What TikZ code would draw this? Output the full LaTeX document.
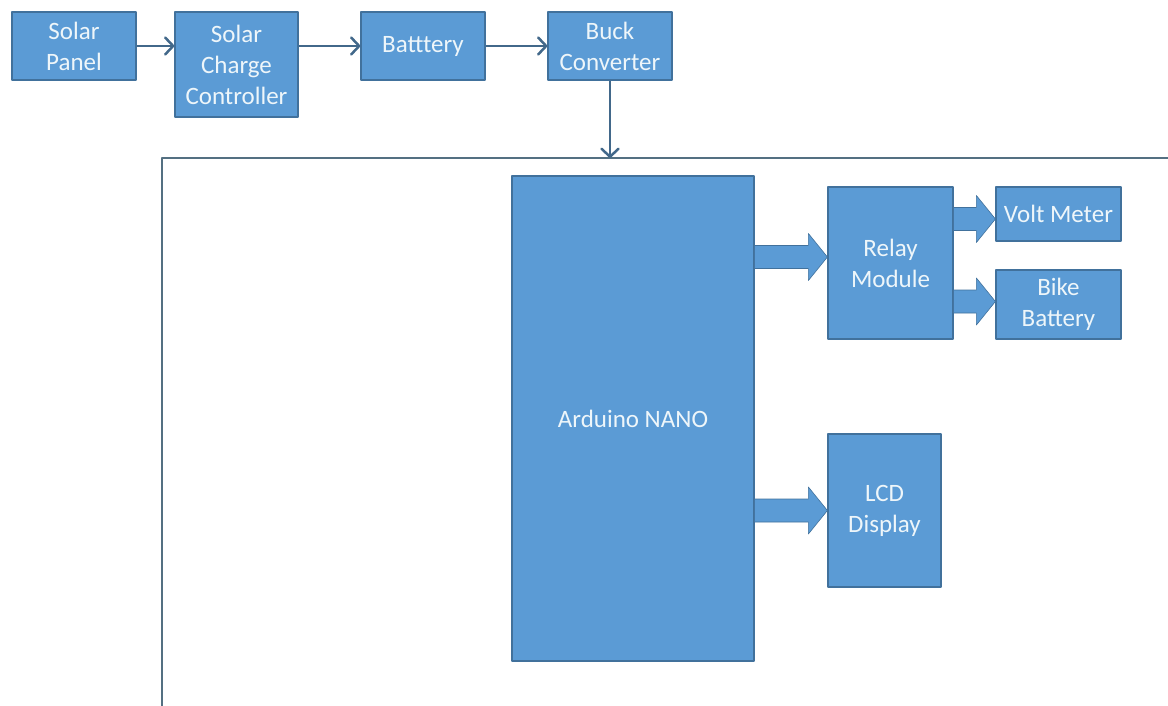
\documentclass[tikz,border=0pt]{standalone}
\usepackage{fontspec}
\setmainfont{Carlito}
\usetikzlibrary{arrows.meta,calc}
\definecolor{boxfill}{RGB}{91,155,213}
\definecolor{boxline}{RGB}{65,113,156}
\definecolor{linkcol}{RGB}{66,104,138}
\definecolor{framecol}{RGB}{84,112,130}
\definecolor{txtcol}{RGB}{238,246,250}
\tikzset{
	blk/.style={draw=boxline, line width=1.2pt, fill=boxfill, text=txtcol, align=center, inner sep=0pt, font=\fontsize{25}{31}\selectfont},
	link/.style={draw=linkcol, line width=2.5pt, -{Straight Barb[length=8pt,width=17pt,round]}},
}
% wide block arrow from #1 to #2 (horizontal)
\newcommand\fatarrow[2]{%
	\filldraw[fill=boxfill, draw=boxline, line width=0.6pt] let \p1=(#1), \p2=(#2) in
	(\x1,\y1+11.5pt) -- (\x2-19pt,\y1+11.5pt) -- (\x2-19pt,\y1+23.5pt) -- (\x2,\y1)
	-- (\x2-19pt,\y1-23.5pt) -- (\x2-19pt,\y1-11.5pt) -- (\x1,\y1-11.5pt) -- cycle;}
\begin{document}
\begin{tikzpicture}[x=1pt, y=-1pt, line join=round]
		\useasboundingbox (0,0) rectangle (1168,706);
		\path
		(162,158) coordinate (ftl)
		(162,706) coordinate (fbl)
		(1168,158) coordinate (ftr)
	;
		% top chain
		\node[blk, minimum width=124pt, minimum height=68pt] (spanel) at (74,46) {Solar\\Panel};
		\node[blk, minimum width=123pt, minimum height=105pt] (scc) at (236.5,64.5) {Solar\\Charge\\Controller};
		\node[blk, minimum width=124pt, minimum height=68pt] (batt) at (423,46) {Batttery};
		\node[blk, minimum width=124pt, minimum height=68pt] (buck) at (610,46) {Buck\\Converter};
		\draw[link] (spanel) -- (scc.west |- spanel);
		\draw[link] (scc.east |- batt) -- (batt);
		\draw[link] (batt) -- (buck);
		% frame
		\draw[framecol, line width=2pt] (fbl) -- (ftl) -- (ftr);
		\draw[link] (buck) -- (buck |- ftl);
		% controller part
		\node[blk, minimum width=242pt, minimum height=485pt] (ard) at (633,418.5) {Arduino NANO};
		\node[blk, minimum width=125pt, minimum height=152pt] (relay) at (890.5,263) {Relay\\Module};
		\node[blk, minimum width=125pt, minimum height=54pt] (volt) at (1058.5,214) {Volt Meter};
		\node[blk, minimum width=125pt, minimum height=69pt] (bike) at (1058.5,304.5) {Bike\\Battery};
		\node[blk, minimum width=113pt, minimum height=153pt] (lcd) at (884.5,510.5) {LCD\\Display};
		\coordinate (rin) at ([yshift=6pt]relay.west);
		\coordinate (vin) at ([yshift=-5pt]volt.west);
		\coordinate (bin) at ([yshift=3pt]bike.west);
		\fatarrow{ard.east |- rin}{rin}
		\fatarrow{relay.east |- vin}{vin}
		\fatarrow{relay.east |- bin}{bin}
		\fatarrow{ard.east |- lcd.west}{lcd.west}
		\end{tikzpicture}
\end{document}
